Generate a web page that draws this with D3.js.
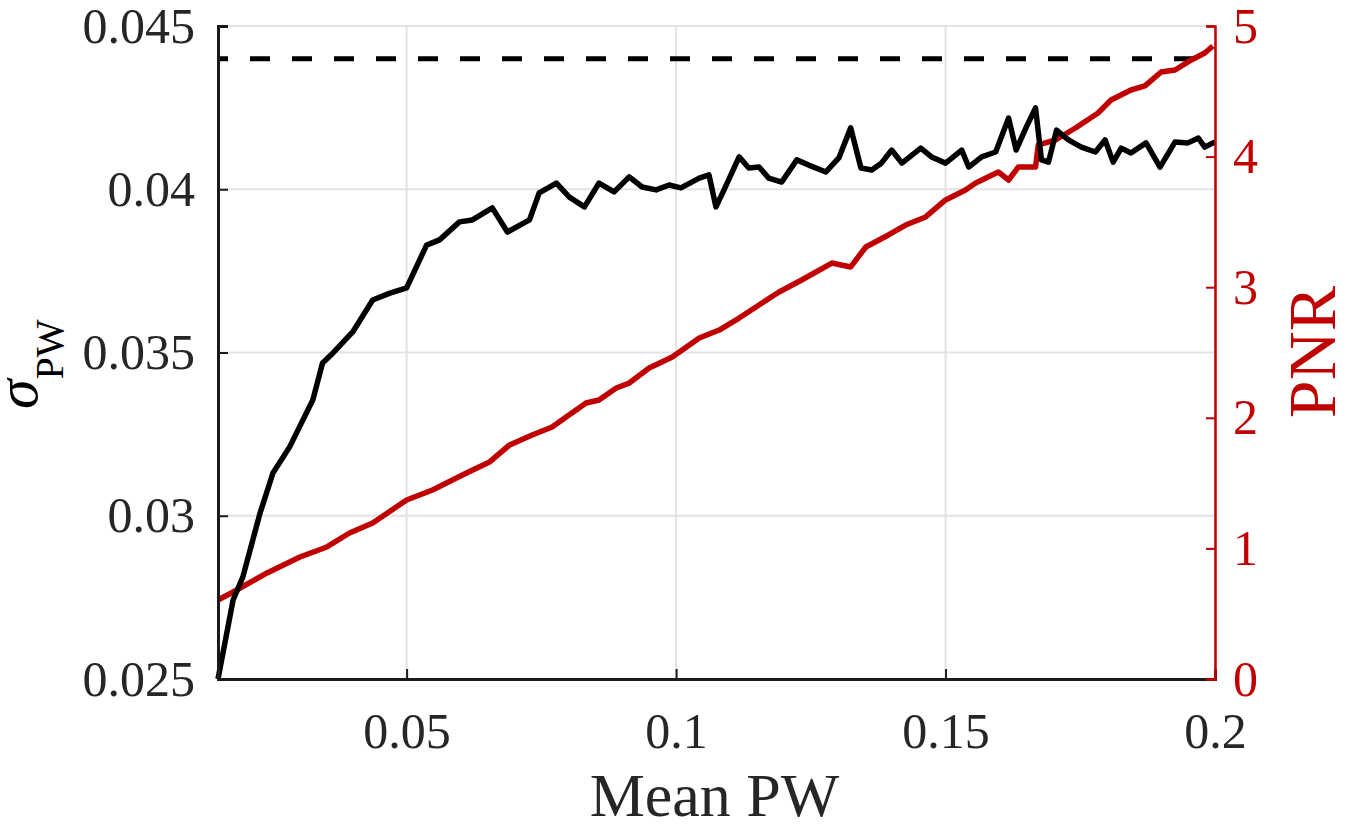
<!DOCTYPE html>
<html>
<head>
<meta charset="utf-8">
<script src="https://cdn.jsdelivr.net/npm/d3@7"></script>
<style>
  body { margin: 0; background: #fff; }
  text { font-family: "Liberation Serif", "Times New Roman", serif; }
</style>
</head>
<body>
<svg></svg>
<script>
const width = 1353;
const height = 829;

// sigma_PW series (left axis)
const sigmaX = [0.0150, 0.0178, 0.0196, 0.0228, 0.0252, 0.0283, 0.0326, 0.0344, 0.0363, 0.0400,
  0.0437, 0.0469, 0.0500, 0.0537, 0.0561, 0.0598, 0.0622, 0.0659, 0.0687, 0.0728,
  0.0746, 0.0778, 0.0802, 0.0830, 0.0857, 0.0885, 0.0913, 0.0937, 0.0963, 0.0987,
  0.1009, 0.1043, 0.1061, 0.1074, 0.1089, 0.1117, 0.1135, 0.1154, 0.1172, 0.1196,
  0.1224, 0.1246, 0.1278, 0.1302, 0.1324, 0.1343, 0.1363, 0.1381, 0.1400, 0.1419,
  0.1454, 0.1474, 0.1500, 0.1530, 0.1543, 0.1567, 0.1593, 0.1617, 0.1631, 0.1650,
  0.1667, 0.1678, 0.1691, 0.1706, 0.1728, 0.1752, 0.1778, 0.1796, 0.1811, 0.1826,
  0.1844, 0.1872, 0.1898, 0.1926, 0.1950, 0.1969, 0.1981, 0.2000];
const sigmaY = [0.02500, 0.02742, 0.02812, 0.03008, 0.03131, 0.03211, 0.03355, 0.03468, 0.03498, 0.03563,
  0.03661, 0.03682, 0.03698, 0.03829, 0.03845, 0.03900, 0.03906, 0.03943, 0.03869, 0.03906,
  0.03989, 0.04019, 0.03976, 0.03946, 0.04019, 0.03992, 0.04038, 0.04007, 0.03998, 0.04013,
  0.04004, 0.04034, 0.04044, 0.03946, 0.03998, 0.04099, 0.04065, 0.04068, 0.04034, 0.04022,
  0.04090, 0.04074, 0.04053, 0.04096, 0.04188, 0.04065, 0.04059, 0.04080, 0.04120, 0.04080,
  0.04126, 0.04099, 0.04080, 0.04120, 0.04068, 0.04099, 0.04114, 0.04218, 0.04120, 0.04191,
  0.04249, 0.04090, 0.04083, 0.04181, 0.04151, 0.04129, 0.04114, 0.04151, 0.04083, 0.04126,
  0.04111, 0.04142, 0.04068, 0.04145, 0.04142, 0.04157, 0.04129, 0.04145];

// PNR series (right axis)
const pnrX = [0.0150, 0.0178, 0.0241, 0.0302, 0.0352, 0.0394, 0.0437, 0.0500, 0.0548, 0.0611,
  0.0654, 0.0691, 0.0733, 0.0770, 0.0796, 0.0833, 0.0857, 0.0889, 0.0913, 0.0950,
  0.0993, 0.1043, 0.1080, 0.1117, 0.1154, 0.1191, 0.1233, 0.1289, 0.1324, 0.1352,
  0.1394, 0.1426, 0.1463, 0.1500, 0.1537, 0.1556, 0.1598, 0.1617, 0.1635, 0.1667,
  0.1672, 0.1704, 0.1741, 0.1783, 0.1807, 0.1844, 0.1870, 0.1900, 0.1926, 0.1956,
  0.1981, 0.1996];
const pnrY = [0.605, 0.666, 0.812, 0.934, 1.011, 1.118, 1.194, 1.371, 1.447, 1.577,
  1.662, 1.792, 1.868, 1.930, 2.006, 2.113, 2.136, 2.228, 2.266, 2.381,
  2.466, 2.611, 2.672, 2.764, 2.864, 2.963, 3.055, 3.185, 3.155, 3.308,
  3.400, 3.476, 3.538, 3.668, 3.744, 3.798, 3.882, 3.821, 3.920, 3.920,
  4.089, 4.127, 4.219, 4.334, 4.433, 4.510, 4.541, 4.648, 4.663, 4.740,
  4.793, 4.847];

const threshold = 0.044;
const xTicks = [0.05, 0.1, 0.15, 0.2];
const yTicks = [0.025, 0.03, 0.035, 0.04, 0.045];
const pnrTicks = [0, 1, 2, 3, 4, 5];

const red = "#c00000";
const plotLeft = 218, plotRight = 1215, plotTop = 26, plotBottom = 679;

const svg = d3.select("svg")
  .attr("width", width)
  .attr("height", height);

const x = d3.scaleLinear().domain([0.015, 0.2]).range([plotLeft, plotRight]);
const y = d3.scaleLinear().domain([0.025, 0.045]).range([plotBottom, plotTop]);
const y2 = d3.scaleLinear().domain([0, 5]).range([plotBottom, plotTop]);

// grid
const grid = svg.append("g").attr("stroke", "#e3e3e3").attr("stroke-width", 2);
grid.selectAll(".gx").data(xTicks).enter().append("line")
  .attr("x1", d => x(d)).attr("x2", d => x(d))
  .attr("y1", plotTop).attr("y2", plotBottom);
grid.selectAll(".gy").data(yTicks).enter().append("line")
  .attr("x1", plotLeft).attr("x2", plotRight)
  .attr("y1", d => y(d)).attr("y2", d => y(d));

// dashed threshold
svg.append("line")
  .attr("x1", plotLeft).attr("x2", plotRight)
  .attr("y1", y(threshold)).attr("y2", y(threshold))
  .attr("stroke", "#000")
  .attr("stroke-width", 5)
  .attr("stroke-dasharray", "20,22")
  .attr("stroke-dashoffset", 10);

// lines
const sigmaLine = d3.line().x(d => x(d[0])).y(d => y(d[1]));
const pnrLine = d3.line().x(d => x(d[0])).y(d => y2(d[1]));

svg.append("path")
  .datum(pnrX.map((d, i) => [d, pnrY[i]]))
  .attr("d", pnrLine)
  .attr("fill", "none")
  .attr("stroke", red)
  .attr("stroke-width", 5.5)
  .attr("stroke-linejoin", "round");

svg.append("path")
  .datum(sigmaX.map((d, i) => [d, sigmaY[i]]))
  .attr("d", sigmaLine)
  .attr("fill", "none")
  .attr("stroke", "#000")
  .attr("stroke-width", 5.5)
  .attr("stroke-linejoin", "round");

// axes
const gx = svg.append("g")
  .attr("transform", `translate(0,${plotBottom})`)
  .call(d3.axisBottom(x).tickValues(xTicks).tickSize(-10).tickPadding(33)
    .tickFormat(d => String(d)));
const gy = svg.append("g")
  .attr("transform", `translate(${plotLeft},0)`)
  .call(d3.axisLeft(y).tickValues(yTicks).tickSize(-10).tickPadding(23)
    .tickFormat(d => String(+d.toFixed(3))));
const gy2 = svg.append("g")
  .attr("transform", `translate(${plotRight},0)`)
  .call(d3.axisRight(y2).tickValues(pnrTicks).tickSize(-9).tickPadding(18)
    .tickFormat(d3.format("d")));

[gx, gy].forEach(g => {
  g.select(".domain").attr("stroke", "#1a1a1a").attr("stroke-width", 3);
  g.selectAll(".tick line").attr("stroke", "#1a1a1a").attr("stroke-width", 2);
  g.selectAll(".tick text").attr("font-size", 50).attr("fill", "#262626")
    .style("font-family", "'Liberation Serif', serif");
});
gy2.select(".domain").attr("stroke", red).attr("stroke-width", 2.5);
gy2.selectAll(".tick line").attr("stroke", red).attr("stroke-width", 2);
gy2.selectAll(".tick text").attr("font-size", 50).attr("fill", red)
  .style("font-family", "'Liberation Serif', serif");

// axis titles
svg.append("text")
  .attr("x", (plotLeft + plotRight) / 2 - 2)
  .attr("y", 816)
  .attr("text-anchor", "middle")
  .attr("font-size", 62)
  .attr("fill", "#262626")
  .text("Mean PW");

const yl = svg.append("text")
  .attr("transform", "translate(37,409) rotate(-90)")
  .attr("font-size", 60)
  .attr("fill", "#000");
yl.append("tspan").attr("font-style", "italic").text("σ");
yl.append("tspan").attr("font-size", 40).attr("dy", 26).text("PW");

svg.append("text")
  .attr("transform", "translate(1335,352) rotate(-90)")
  .attr("text-anchor", "middle")
  .attr("font-size", 68)
  .attr("fill", red)
  .text("PNR");
</script>
</body>
</html>
